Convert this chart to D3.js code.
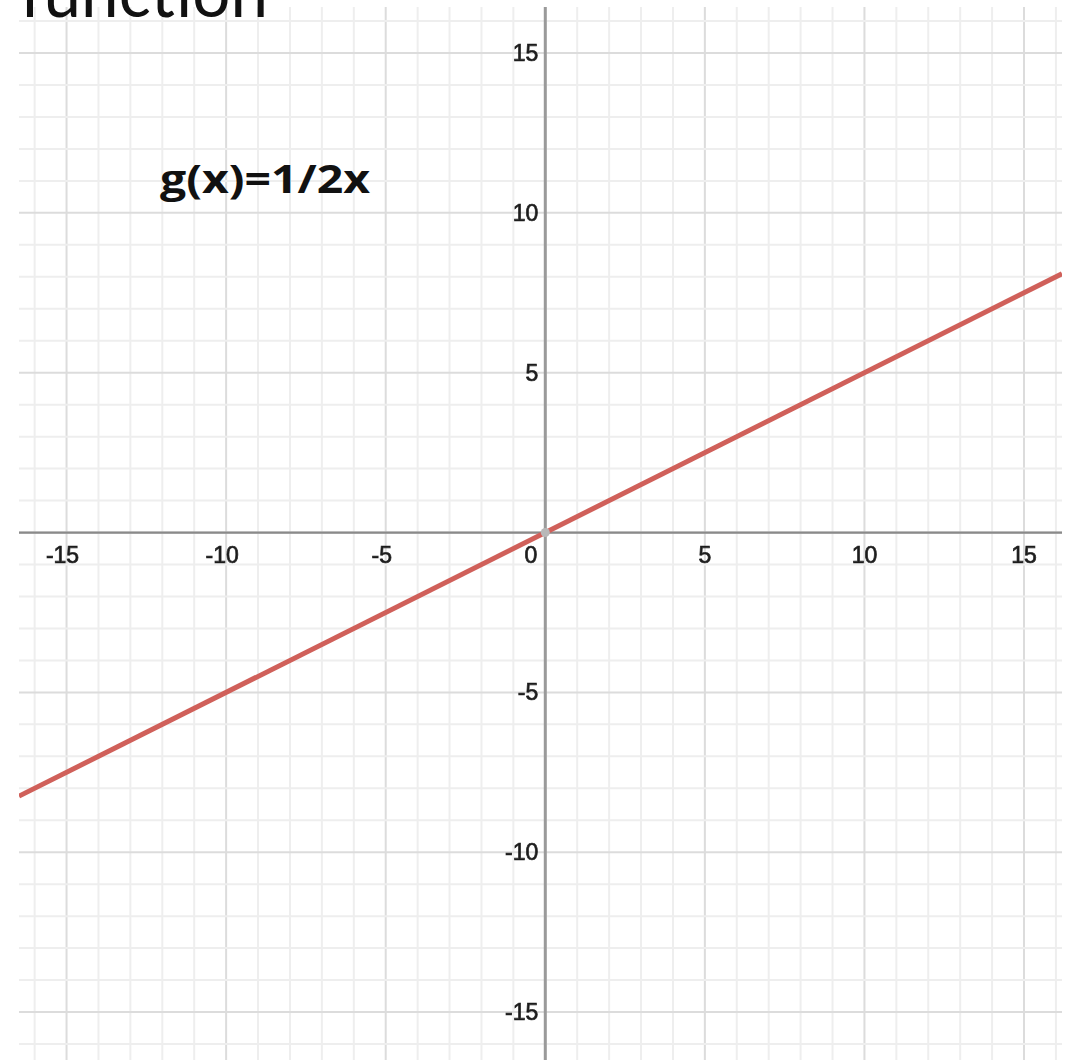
<!DOCTYPE html>
<html>
<head>
<meta charset="utf-8">
<script src="https://cdn.jsdelivr.net/npm/d3@7"></script>
<style>
  html, body { margin: 0; padding: 0; background: #fff; }
  svg { display: block; }
</style>
</head>
<body>
<svg id="chart" width="1071" height="1060"></svg>
<script>
// Axis ranges and ticks of the graph window
const xDomain = [-16.49, 16.19];
const yDomain = [16.44, -16.5];
const xTicks = [-15, -10, -5, 0, 5, 10, 15];
const yTicks = [15, 10, 5, -5, -10, -15];
const minorStep = 1;
const majorStep = 5;

// Plotted function g(x) = 1/2 x, sampled at the window edges
const slope = [0.5];
const lineX = [-16.49, 16.19];
const title = "function";
const fnLabel = "g(x)=1/2x";

const svg = d3.select("#chart");
const W = 1071, H = 1060;
const plot = { left: 19, right: 1062, top: 7, bottom: 1060 };

const x = d3.scaleLinear().domain(xDomain).range([plot.left, plot.right]);
const y = d3.scaleLinear().domain(yDomain).range([plot.top, plot.bottom]);

svg.append("rect").attr("width", W).attr("height", H).attr("fill", "#fff");

const defs = svg.append("defs");
defs.append("filter").attr("id", "soft")
  .append("feGaussianBlur").attr("stdDeviation", 0.6);
defs.append("clipPath").attr("id", "plotClip")
  .append("rect")
  .attr("x", plot.left).attr("y", plot.top)
  .attr("width", plot.right - plot.left).attr("height", plot.bottom - plot.top);

const g = svg.append("g").attr("filter", "url(#soft)").attr("clip-path", "url(#plotClip)");

// Grid: minor every unit, major every five
const xGrid = d3.range(Math.ceil(xDomain[0]), Math.floor(xDomain[1]) + 1, minorStep);
const yGrid = d3.range(Math.ceil(yDomain[1]), Math.floor(yDomain[0]) + 1, minorStep);
const isMajor = v => v % majorStep === 0;

g.append("g").selectAll("line").data(xGrid).join("line")
  .attr("x1", d => x(d)).attr("x2", d => x(d))
  .attr("y1", plot.top).attr("y2", plot.bottom)
  .attr("stroke", d => isMajor(d) ? "#dcdcdc" : "#eeeeee")
  .attr("stroke-width", 2);

g.append("g").selectAll("line").data(yGrid).join("line")
  .attr("y1", d => y(d)).attr("y2", d => y(d))
  .attr("x1", plot.left).attr("x2", plot.right)
  .attr("stroke", d => isMajor(d) ? "#dcdcdc" : "#eeeeee")
  .attr("stroke-width", 2);

// Axes
g.append("line")
  .attr("x1", plot.left).attr("x2", plot.right)
  .attr("y1", y(0)).attr("y2", y(0))
  .attr("stroke", "#8a8a8a").attr("stroke-width", 2.2);
g.append("line")
  .attr("x1", x(0)).attr("x2", x(0))
  .attr("y1", plot.top).attr("y2", plot.bottom)
  .attr("stroke", "#9a9a9a").attr("stroke-width", 3);

// Function line
const lineGen = d3.line().x(d => x(d)).y(d => y(slope[0] * d));
g.append("path")
  .datum(lineX)
  .attr("d", lineGen)
  .attr("fill", "none")
  .attr("stroke", "#d0605a")
  .attr("stroke-width", 5);

// Point at the origin
g.append("circle")
  .attr("cx", x(0)).attr("cy", y(0)).attr("r", 4.5)
  .attr("fill", "#b8b8b8");

// Tick labels
const labels = svg.append("g")
  .attr("font-family", "Liberation Sans, Arial, sans-serif")
  .attr("font-size", 23)
  .attr("fill", "#1e1e1e")
  .attr("stroke", "#1e1e1e").attr("stroke-width", 0.7)
  .attr("filter", "url(#soft)");

labels.selectAll("text.xt").data(xTicks).join("text")
  .attr("class", "xt")
  .attr("x", d => d === 0 ? x(0) - 8 : x(d) - (d < 0 ? 4 : 0))
  .attr("y", y(0) + 30)
  .attr("text-anchor", d => d === 0 ? "end" : "middle")
  .text(d => d);

labels.selectAll("text.yt").data(yTicks).join("text")
  .attr("class", "yt")
  .attr("x", x(0) - 7)
  .attr("y", d => y(d) + 8)
  .attr("text-anchor", "end")
  .text(d => d);

// Function label and heading
svg.append("text")
  .attr("x", 160).attr("y", 193)
  .attr("font-family", "Open Sans, Lato, sans-serif")
  .attr("font-weight", "bold")
  .attr("font-size", 40)
  .attr("textLength", 210)
  .attr("lengthAdjust", "spacingAndGlyphs")
  .attr("fill", "#111")
  .text(fnLabel);

svg.append("text")
  .attr("x", 20).attr("y", 17)
  .attr("font-family", "Lato, Open Sans, sans-serif")
  .attr("font-size", 70)
  .attr("textLength", 248)
  .attr("lengthAdjust", "spacingAndGlyphs")
  .attr("fill", "#111")
  .text(title);
</script>
</body>
</html>
